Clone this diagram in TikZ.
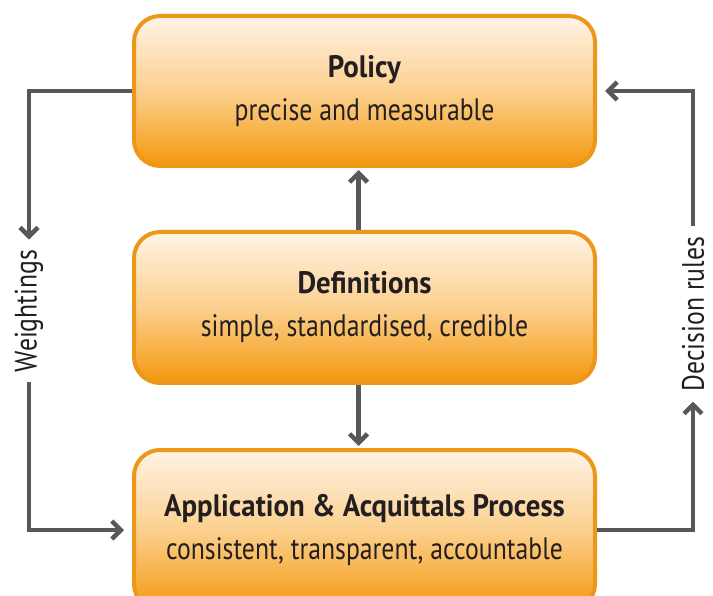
\documentclass[tikz,border=0pt]{standalone}
\usepackage{fontspec}
\setmainfont{PT Sans}[UprightFeatures={FakeStretch=0.83},
  BoldFeatures={FakeStretch=0.93}]
\usetikzlibrary{arrows.meta}
\definecolor{boxedge}{RGB}{236,150,26}
\definecolor{boxtop}{RGB}{255,243,230}
\definecolor{boxmid}{RGB}{251,208,142}
\definecolor{boxbot}{RGB}{245,152,12}
\definecolor{flow}{RGB}{88,88,90}
\definecolor{ink}{RGB}{35,31,32}
\tikzset{
  stage/.style={draw=boxedge, line width=4pt, rounded corners=26pt,
    top color=boxtop, bottom color=boxbot, middle color=boxmid,
    minimum width=461pt, text=ink, align=center,
    font=\fontsize{31}{43}\selectfont},
  flowline/.style={draw=flow, line width=4.5pt,
    -{Straight Barb[length=9pt,width=18pt]}},
  sidelabel/.style={rotate=90, text=ink, inner xsep=10pt, inner ysep=1pt,
    font=\fontsize{31}{34}\selectfont}
}
\begin{document}
\begin{tikzpicture}[x=1pt,y=-1pt]
\useasboundingbox (0,0) rectangle (713,596);
% Boxes
\node[stage, minimum height=150pt] (policy) at (364.5,91)
  {\textbf{Policy}\\precise and measurable};
\node[stage, minimum height=151pt] (defs) at (364.5,307.5)
  {\textbf{Definitions}\\simple, standardised, credible};
\node[stage, minimum height=160pt] (process) at (364.5,530)
  {\textbf{Application \& Acquittals Process}\\consistent, transparent, accountable};
% Side labels
\node[sidelabel] (weight) at (29,311) {Weightings};
\node[sidelabel] (decide) at (693,314) {Decision rules};
% Flows
\path[flowline, shorten >=2pt] ([xshift=-6pt]defs.north) -- ([xshift=-6pt]policy.south);
\path[flowline, shorten >=2pt] ([xshift=-6pt]defs.south) -- ([xshift=-6pt]process.north);
\path[flowline] (policy.west) -| (weight.east);
\path[flowline, shorten >=8pt] (weight.west) |- (process.west);
\path[flowline] (process.east) -| (decide.west);
\path[flowline, shorten >=8pt] (decide.east) |- (policy.east);
\end{tikzpicture}
\end{document}
